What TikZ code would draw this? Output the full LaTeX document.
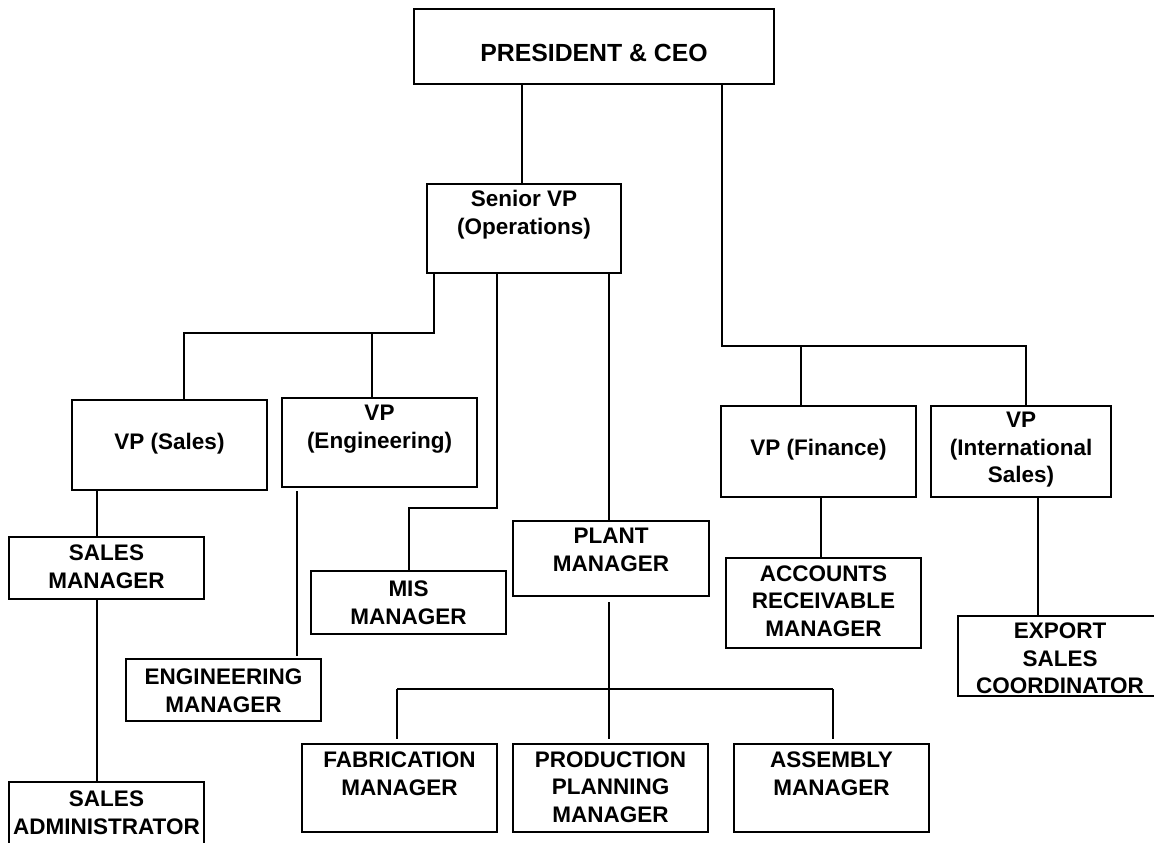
\documentclass[tikz,border=0pt]{standalone}
\usepackage{fontspec}
\setmainfont{Liberation Sans}
\newcommand\orgnode[8][orgtext]{%
  \node[orgbox, minimum width={(#5-#3)*0.5pt}, minimum height={(#6-#4)*0.5pt}] (#2) at ({(#3+#5)/2},{(#4+#6)/2}) {};
  \node[#1] (#2-text) at ({(#3+#5)/2},#7) {#8};}
\begin{document}
\begin{tikzpicture}[x=0.5pt,y=-0.5pt,
  orgbox/.style={draw=black, line width=1pt, rectangle, inner sep=0pt, outer sep=0pt},
  orgtext/.style={align=center, inner sep=0pt, font=\fontsize{11.25}{13.75}\selectfont\bfseries},
  ceotext/.style={align=center, inner sep=0pt, font=\fontsize{12.4}{15}\selectfont\bfseries},
  link/.style={draw=black, line width=1pt}]
\useasboundingbox (0,0) rectangle (1154,842);
\clip (0,0) rectangle (1154,842);

% boxes: name, x1, y1, x2, y2, text centre y, text
\orgnode[ceotext]{ceo}{414}{9}{774}{84}{53}{PRESIDENT \& CEO}
\orgnode{svp}{427}{184}{621}{273}{214.5}{Senior VP\\(Operations)}
\orgnode{vps}{72}{400}{267}{490}{444}{VP (Sales)}
\orgnode{vpe}{282}{398}{477}{487}{429}{VP\\(Engineering)}
\orgnode{vpf}{721}{406}{916}{497}{450}{VP (Finance)}
\orgnode{vpi}{931}{406}{1111}{497}{450}{VP\\(International\\Sales)}
\orgnode{sm}{9}{537}{204}{599}{566.5}{SALES\\MANAGER}
\orgnode{mis}{311}{571}{506}{634}{602.5}{MIS\\MANAGER}
\orgnode{pm}{513}{521}{709}{596}{550}{PLANT\\MANAGER}
\orgnode{ar}{726}{558}{921}{648}{601}{ACCOUNTS\\RECEIVABLE\\MANAGER}
\orgnode{esc}{958}{616}{1162}{696}{658.5}{EXPORT\\SALES\\COORDINATOR}
\orgnode{em}{126}{659}{321}{721}{690.5}{ENGINEERING\\MANAGER}
\orgnode{fab}{302}{744}{497}{832}{773.5}{FABRICATION\\MANAGER}
\orgnode{ppm}{513}{744}{708}{832}{787}{PRODUCTION\\PLANNING\\MANAGER}
\orgnode{asm}{734}{744}{929}{832}{773.5}{ASSEMBLY\\MANAGER}
\orgnode{sa}{9}{782}{204}{880}{812.5}{SALES\\ADMINISTRATOR}

% junctions
\coordinate (jF) at (722,346);
\coordinate (jF1) at (801,346);
\coordinate (jF2) at (1026,346);
\coordinate (jS) at (434,333);
\coordinate (jS1) at (184,333);
\coordinate (jS2) at (372,333);
\coordinate (jM1) at (497,508);
\coordinate (jM2) at (409,508);
\coordinate (jP1) at (397,689);
\coordinate (jP2) at (833,689);

% connectors
\draw[link] (ceo.south -| 522,0) -- (svp.north -| 522,0);
\draw[link] (ceo.south -| jF) -- (jF) -- (jF2) -- (vpi.north -| jF2);
\draw[link] (jF1) -- (vpf.north -| jF1);
\draw[link] (svp.south -| jS) -- (jS) -- (jS1) -- (vps.north -| jS1);
\draw[link] (jS2) -- (vpe.north -| jS2);
\draw[link] (svp.south -| jM1) -- (jM1) -- (jM2) -- (mis.north -| jM2);
\draw[link] (svp.south -| 609,0) -- (pm.north -| 609,0);
\draw[link] (vps.south -| 97,0) -- (sm.north -| 97,0);
\draw[link] (sm.south -| 97,0) -- (sa.north -| 97,0);
\draw[link, shorten <=2pt, shorten >=1.5pt] (vpe.south -| 297,0) -- (em.north -| 297,0);
\draw[link] (vpf.south -| 821,0) -- (ar.north -| 821,0);
\draw[link] (vpi.south -| 1038,0) -- (esc.north -| 1038,0);
\draw[link, shorten <=3pt, shorten >=2.5pt] (pm.south -| 609,0) -- (ppm.north -| 609,0);
\draw[link] (jP1) -- (jP2);
\draw[link, shorten >=2.5pt] (jP1) -- (fab.north -| jP1);
\draw[link, shorten >=2.5pt] (jP2) -- (asm.north -| jP2);
\end{tikzpicture}
\end{document}
